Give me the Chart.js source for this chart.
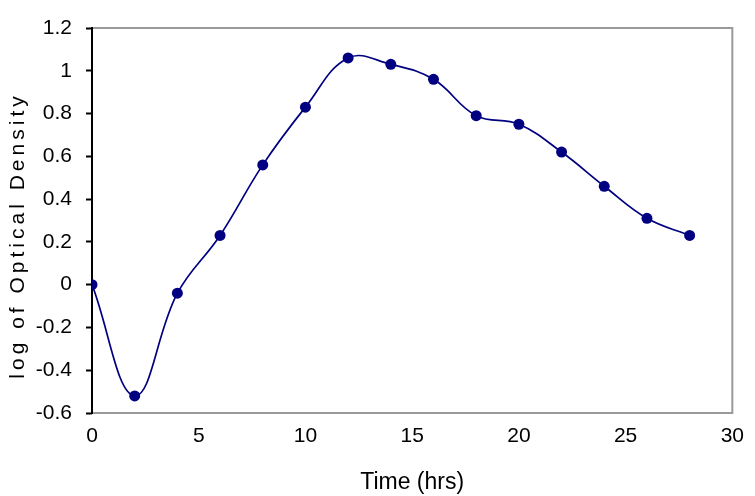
<!DOCTYPE html>
<html>
<head>
<meta charset="utf-8">
<script src="https://cdn.jsdelivr.net/npm/chart.js@4/dist/chart.umd.min.js"></script>
<style>
  html, body { margin: 0; padding: 0; background: #fff; }
  #wrap { width: 755px; height: 496px; position: relative; }
</style>
</head>
<body>
<div id="wrap"><canvas id="c"></canvas></div>
<script>
// Data
const timeHrs = [0, 2, 4, 6, 8, 10, 12, 14, 16, 18, 20, 22, 24, 26, 28];
const logOD   = [0, -0.52, -0.04, 0.23, 0.56, 0.83, 1.06, 1.03, 0.96, 0.79, 0.75, 0.62, 0.46, 0.31, 0.23];
const xTickValues = [0, 5, 10, 15, 20, 25, 30];
const yTickValues = [-0.6, -0.4, -0.2, 0, 0.2, 0.4, 0.6, 0.8, 1, 1.2];
const xTitle = 'Time (hrs)';
const yTitle = 'log of Optical Density';

const tickFont = { family: '"Liberation Sans", Arial, sans-serif', size: 21 };

const framePlugin = {
  id: 'frame',
  beforeDraw(chart) {
    const ys = chart.scales.y;
    if (ys && !ys._patchedTitle) {
      const orig = ys.drawTitle.bind(ys);
      ys.drawTitle = function () {
        const ctx = this.ctx;
        ctx.save();
        ctx.letterSpacing = '4px';
        ctx.translate(0, 15);
        orig();
        ctx.restore();
      };
      ys._patchedTitle = true;
    }
  },
  beforeDatasetsDraw(chart) {
    const a = chart.chartArea;
    const ctx = chart.ctx;
    ctx.save();
    ctx.strokeStyle = '#9a9a9a';
    ctx.lineWidth = 2;
    ctx.beginPath();
    ctx.moveTo(a.left, a.top);
    ctx.lineTo(a.right, a.top);
    ctx.lineTo(a.right, a.bottom);
    ctx.lineTo(a.left, a.bottom);
    ctx.stroke();
    ctx.strokeStyle = '#000';
    ctx.beginPath();
    ctx.moveTo(a.left, a.top - 1);
    ctx.lineTo(a.left, a.bottom + 1);
    ctx.stroke();
    ctx.restore();
  }
};

const fmt = v => String(Number(Number(v).toFixed(1)));

new Chart(document.getElementById('c'), {
  type: 'line',
  data: {
    datasets: [{
      data: timeHrs.map((t, i) => ({ x: t, y: logOD[i] })),
      borderColor: '#000080',
      backgroundColor: '#000080',
      borderWidth: 1.7,
      pointRadius: 5.5,
      pointStyle: 'circle',
      pointBorderWidth: 0,
      tension: 0.4,
      fill: false
    }]
  },
  plugins: [framePlugin],
  options: {
    responsive: true,
    maintainAspectRatio: false,
    animation: false,
    layout: { padding: { top: 28, right: 17, left: 0, bottom: 0 } },
    plugins: { legend: { display: false }, tooltip: { enabled: false } },
    scales: {
      x: {
        type: 'linear',
        min: 0, max: 30,
        afterBuildTicks: s => { s.ticks = xTickValues.map(v => ({ value: v })); },
        afterFit: s => { s.height = 83; },
        grid: { display: true, drawOnChartArea: false, drawTicks: false },
        border: { display: false },
        ticks: { color: '#000', font: tickFont, padding: 11, maxRotation: 0, autoSkip: false, callback: v => fmt(v) },
        title: {
          display: true, text: xTitle, color: '#000',
          font: { family: '"Liberation Sans", Arial, sans-serif', size: 23 },
          padding: { top: 1, bottom: 0 }
        }
      },
      y: {
        type: 'linear',
        min: -0.6, max: 1.2,
        afterBuildTicks: s => { s.ticks = yTickValues.map(v => ({ value: v })); },
        afterFit: s => { s.width = 92; },
        grid: { display: true, drawOnChartArea: false, drawTicks: true, tickLength: 6, tickColor: '#000', tickWidth: 2 },
        border: { display: false },
        ticks: { color: '#000', font: tickFont, padding: 14, autoSkip: false, callback: v => fmt(v) },
        title: {
          display: true, text: yTitle, color: '#000',
          font: { family: '"Liberation Sans", Arial, sans-serif', size: 21 },
          padding: { top: 6, bottom: 0 }
        }
      }
    }
  }
});
</script>
</body>
</html>
